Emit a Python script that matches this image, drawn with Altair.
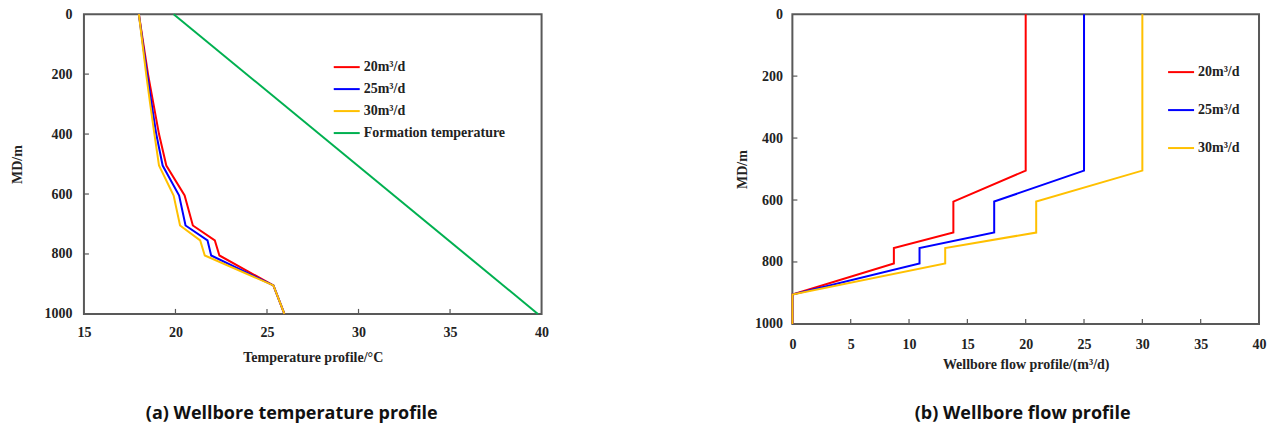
import altair as alt
import pandas as pd

# ---------------- data ----------------
md_temp = [0, 100, 200, 300, 400, 505, 605, 705, 755, 805, 905, 1000]
t_20 = [18.0, 18.25, 18.5, 18.8, 19.1, 19.5, 20.5, 20.95, 22.15, 22.4, 25.35, 25.95]
t_25 = [18.0, 18.22, 18.45, 18.7, 18.95, 19.3, 20.2, 20.55, 21.75, 21.95, 25.35, 25.95]
t_30 = [18.0, 18.2, 18.4, 18.62, 18.85, 19.1, 19.9, 20.25, 21.35, 21.6, 25.35, 25.95]
md_form = [0, 1000]
t_form = [19.9, 39.8]

md_flow = [0, 505, 605, 705, 755, 805, 905, 1000]
q_20 = [20, 20, 13.8, 13.8, 8.7, 8.7, 0, 0]
q_25 = [25, 25, 17.3, 17.3, 10.9, 10.9, 0, 0]
q_30 = [30, 30, 20.9, 20.9, 13.1, 13.1, 0, 0]

series_temp = ["20m³/d", "25m³/d", "30m³/d", "Formation temperature"]
series_flow = ["20m³/d", "25m³/d", "30m³/d"]
colors = ["#FF0000", "#0000FF", "#FFC000", "#00B050"]

y_ticks = [0, 200, 400, 600, 800, 1000]
x_ticks_left = [15, 20, 25, 30, 35, 40]
x_ticks_right = [0, 5, 10, 15, 20, 25, 30, 35, 40]

# ---------------- tables ----------------
rows = []
for name, vals in zip(series_temp[:3], [t_20, t_25, t_30]):
    for i, (d, v) in enumerate(zip(md_temp, vals)):
        rows.append({"series": name, "MD": d, "T": v, "idx": i})
for i, (d, v) in enumerate(zip(md_form, t_form)):
    rows.append({"series": series_temp[3], "MD": d, "T": v, "idx": i})
df_temp = pd.DataFrame(rows)

rows = []
for name, vals in zip(series_flow, [q_20, q_25, q_30]):
    for i, (d, v) in enumerate(zip(md_flow, vals)):
        rows.append({"series": name, "MD": d, "Q": v, "idx": i})
df_flow = pd.DataFrame(rows)

SERIF = "Liberation Serif"
FRAME = "#595959"

WL, HL = 458, 300
WR, HR = 467, 310


def make_panel(df, xfield, xdomain, xvalues, xtitle, series, cols, W, H,
               legend_x, legend_y, row_pad, title, title_dx, title_offset,
               lab_pad_x, title_pad_x, lab_pad_y, title_pad_y):
    xscale = alt.Scale(domain=xdomain, nice=False, zero=False)
    yscale = alt.Scale(domain=[0, 1000], reverse=True, nice=False)
    lines = alt.Chart(df).mark_line(strokeWidth=2).encode(
        x=alt.X(f"{xfield}:Q", scale=xscale,
                axis=alt.Axis(values=xvalues, title=xtitle, labelPadding=lab_pad_x,
                              titlePadding=title_pad_x, format="d", labelFlush=False)),
        y=alt.Y("MD:Q", scale=yscale,
                axis=alt.Axis(values=y_ticks, title="MD/m", labelPadding=lab_pad_y,
                              titlePadding=title_pad_y, format="d", labelFlush=False)),
        color=alt.Color("series:N", scale=alt.Scale(domain=series, range=cols),
                        legend=alt.Legend(title=None, orient="none", legendX=legend_x,
                                          legendY=legend_y, rowPadding=row_pad,
                                          symbolType="stroke", symbolSize=676,
                                          symbolStrokeWidth=2, labelOffset=3,
                                          padding=0)),
        order=alt.Order("idx:Q"),
    )
    xt = pd.DataFrame({xfield: xvalues[1:-1]})
    yt = pd.DataFrame({"MD": y_ticks[1:-1]})
    xtick = alt.Chart(xt).mark_rule(color=FRAME, strokeWidth=1.2).encode(
        x=alt.X(f"{xfield}:Q", scale=xscale), y=alt.value(H), y2=alt.value(H - 5))
    ytick = alt.Chart(yt).mark_rule(color=FRAME, strokeWidth=1.2).encode(
        y=alt.Y("MD:Q", scale=yscale), x=alt.value(0), x2=alt.value(5))
    return alt.layer(lines, xtick, ytick).properties(
        width=W, height=H,
        title=alt.TitleParams(title, orient="bottom", frame="group", dx=title_dx,
                              offset=title_offset, font="Open Sans", fontSize=18,
                              fontWeight="bold", color="#111111"),
    )


left = make_panel(df_temp, "T", [15, 40], x_ticks_left, "Temperature profile/°C",
                  series_temp, colors, WL, HL, 249, 39, 1, "(a) Wellbore temperature profile",
                  -21, 40, 12, 11, 12, 19)
right = make_panel(df_flow, "Q", [0, 40], x_ticks_right, "Wellbore flow profile/(m³/d)",
                   series_flow, colors[:3], WR, HR, 375, 44, 17, "(b) Wellbore flow profile",
                   -3, 33, 14, 6, 10, 5)

chart = alt.hconcat(left, right, spacing=185).resolve_scale(color="independent").properties(
    background="white",
    padding={"top": -2, "left": 2, "right": 0, "bottom": 0},
).configure_view(
    stroke=FRAME, strokeWidth=2
).configure_axis(
    domain=False, ticks=False, grid=False,
    labelFont=SERIF, labelFontSize=14, labelFontWeight="bold", labelColor="#222222",
    titleFont=SERIF, titleFontSize=14, titleFontWeight="bold", titleColor="#222222",
).configure_legend(
    labelFont=SERIF, labelFontSize=14, labelFontWeight="bold", labelColor="#222222",
)

chart.save("out.html", embed_options={"renderer": "svg", "actions": False})
